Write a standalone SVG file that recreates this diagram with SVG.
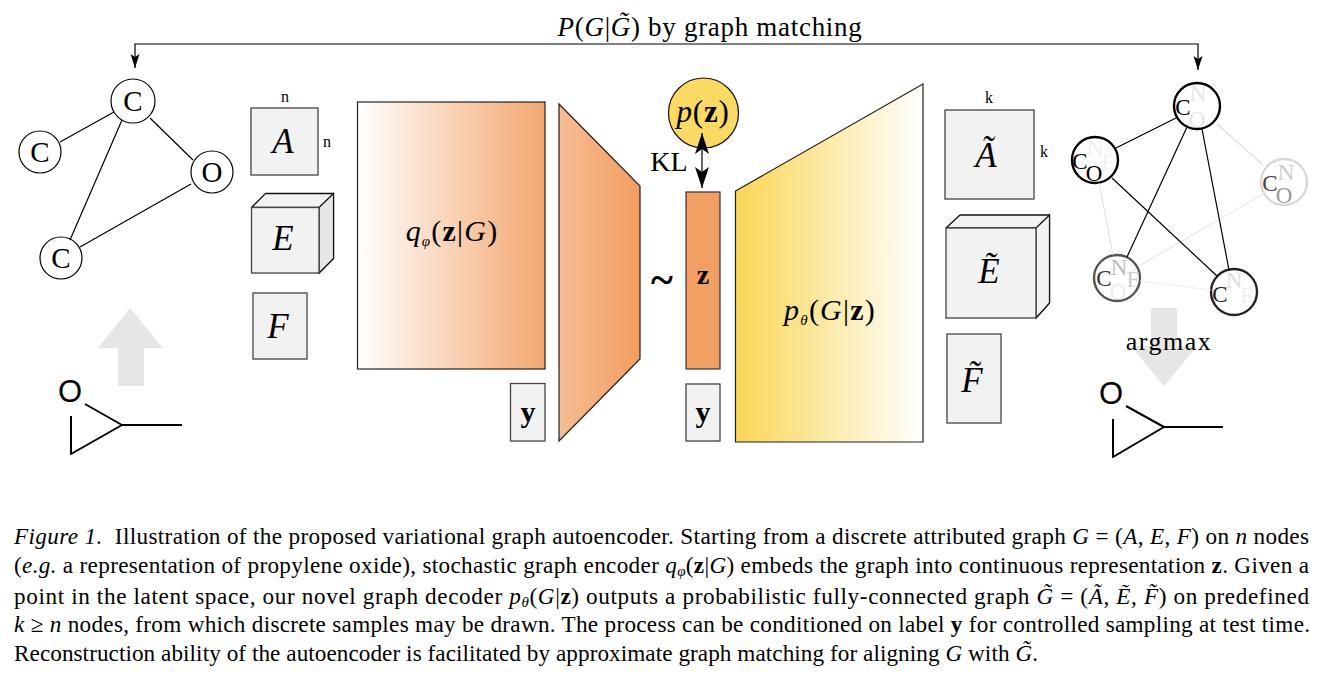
<svg xmlns="http://www.w3.org/2000/svg" width="1340" height="692" viewBox="0 0 1340 692">
<style>
text{font-family:"Liberation Serif","Times New Roman",serif;fill:#000}
.m{font-style:italic}
.b{font-weight:bold;font-style:normal}
.ctr{text-anchor:middle}
.box{fill:#f2f2f2;stroke:#444;stroke-width:1.3}
.side{fill:#f2f2f2;stroke:#111;stroke-width:1.3;stroke-linejoin:round}
.edge{stroke:#000;stroke-width:1.2;fill:none}
.n{fill:#fff;stroke:#000;stroke-width:1.2}
.lbl{font-size:29px;text-anchor:middle}
.s{font-size:23px;text-anchor:middle}
.dim{font-size:16px;text-anchor:middle}
.big{font-size:35px;text-anchor:middle}
.mol{stroke:#000;stroke-width:2;fill:none;stroke-linejoin:round}
.molO{font-family:"Liberation Sans",Arial,sans-serif;font-size:31px;text-anchor:middle}
.cap{font-size:23.200px}
.sub{font-size:15px}
.capsub{font-size:15px}
.gray{fill:#e6e6e6}
.math{font-size:30px;letter-spacing:1.200px;text-anchor:middle}
</style>
<defs>
<linearGradient id="enc" x1="0" x2="1" y1="0" y2="0"><stop offset="0" stop-color="#fff"/><stop offset="1" stop-color="#f3a66f"/></linearGradient>
<linearGradient id="trap" x1="0" x2="1" y1="0" y2="0"><stop offset="0" stop-color="#f6bd94"/><stop offset="1" stop-color="#f29d60"/></linearGradient>
<linearGradient id="dec" x1="0" x2="1" y1="0" y2="0"><stop offset="0" stop-color="#f9d655"/><stop offset="1" stop-color="#fff"/></linearGradient>
<marker id="ah" viewBox="0 0 14 10" refX="14" refY="5" markerWidth="14" markerHeight="10" markerUnits="userSpaceOnUse" orient="auto-start-reverse"><path d="M0 0.500 L14 5 L0 9.500 L3 5 Z" fill="#000"/></marker>
<marker id="ahb" viewBox="0 0 21 14" refX="21" refY="7" markerWidth="21" markerHeight="14" markerUnits="userSpaceOnUse" orient="auto-start-reverse"><path d="M0 0 L21 7 L0 14 L5 7 Z" fill="#000"/></marker>
</defs>

<text id="matching-label" x="710" y="36" font-size="27" letter-spacing="0.700" class="ctr"><tspan class="m">P</tspan>(<tspan class="m">G</tspan>|<tspan class="m">G&#771;</tspan>) by graph matching</text>

<g id="graph-in">
<g id="g1"><circle class="n" cx="133" cy="101" r="22"/><text class="lbl" x="133" y="111">C</text></g>
<g id="g2"><circle class="n" cx="40" cy="152" r="21"/><text class="lbl" x="40" y="162">C</text></g>
<g id="g3"><circle class="n" cx="212" cy="172" r="21"/><text class="lbl" x="212" y="182">O</text></g>
<g id="g4"><circle class="n" cx="61" cy="258" r="21"/><text class="lbl" x="61" y="268">C</text></g>
</g>

<g id="mol-in">
<path class="gray" d="M130 308L163 348H144V386H118V348H98Z"/>
<path class="mol" d="M85 404L122 425L71 454V416M122 425H182"/>
<text class="molO" x="70" y="402">O</text>
</g>

<g id="A"><rect class="box" x="251" y="108" width="67" height="67"/><text class="big m" x="283" y="153">A</text><text class="dim" x="285" y="102">n</text><text class="dim" x="327" y="147">n</text></g>
<g id="E"><path class="side" d="M251.500 207.500L265.500 193.500H333.500V258.500L319 273V207.500Z"/><path d="M319 207.500L333.500 193.500V258.500L319 273Z" fill="#e6e6e6" stroke="#111" stroke-width="1.200"/><rect class="box" x="251.500" y="207.500" width="67.500" height="65.500"/><text class="big m" x="283" y="250">E</text></g>
<g id="F"><rect class="box" x="253" y="293" width="54" height="66"/><text class="big m" x="278" y="338">F</text></g>

<g id="encoder"><rect x="357.500" y="102" width="187.500" height="267" fill="url(#enc)" stroke="#222" stroke-width="1.200"/><text x="452" y="241" class="math"><tspan class="m">q</tspan><tspan class="m sub" dy="5">&#966;</tspan><tspan dy="-5">(</tspan><tspan class="b">z</tspan>|<tspan class="m">G</tspan>)</text></g>
<g id="encoder-neck"><path d="M559 104L640 186V359L559 441Z" fill="url(#trap)" stroke="#222" stroke-width="1.200"/></g>
<g id="y1"><rect class="box" x="510.500" y="383.500" width="34.500" height="57.500"/><text class="b ctr" x="528" y="422" font-size="30">y</text></g>
<text id="sample" x="662" y="294" font-size="42" class="b ctr">~</text>
<g id="z"><rect x="686" y="192" width="34" height="177" fill="#f29f63" stroke="#333" stroke-width="1.200"/><text class="b ctr" x="703" y="284" font-size="28">z</text></g>
<g id="y2"><rect class="box" x="686" y="384" width="34" height="57"/><text class="b ctr" x="703" y="422" font-size="30">y</text></g>
<g id="prior"><circle cx="703.500" cy="113" r="35" fill="#fad964" stroke="#111" stroke-width="1.200"/><text x="703" y="122" font-size="31" class="ctr" letter-spacing="0.800"><tspan class="m">p</tspan>(<tspan class="b">z</tspan>)</text></g>
<text id="kl" x="669" y="171" font-size="28" class="ctr">KL</text>
<g id="decoder"><path d="M735.500 191L923 84V442H735.500Z" fill="url(#dec)" stroke="#222" stroke-width="1.200"/><text x="830" y="320" class="math"><tspan class="m">p</tspan><tspan class="m sub" dy="5">&#952;</tspan><tspan dy="-5">(</tspan><tspan class="m">G</tspan>|<tspan class="b">z</tspan>)</text></g>

<g id="A-tilde"><rect class="box" x="945" y="110" width="89" height="89"/><text class="big m" x="986" y="167">A&#771;</text><text class="dim" x="989" y="103">k</text><text class="dim" x="1044" y="157">k</text></g>
<g id="E-tilde"><path class="side" d="M946 228L960 215H1049.500V303L1036 318V228Z"/><path d="M1036 228L1049.500 215V303L1036 318Z" fill="#f2f2f2" stroke="#111" stroke-width="1.200"/><rect class="box" x="946" y="228" width="90" height="90"/><text class="big m" x="989" y="283">E&#771;</text></g>
<g id="F-tilde"><rect class="box" x="947" y="334" width="54" height="89"/><text class="big m" x="972" y="392">F&#771;</text></g>

<g id="graph-out">
<g id="h1"><circle cx="1197" cy="106" r="23" fill="#fff" stroke="#000" stroke-width="2.400"/><text class="s" x="1198" y="101" style="fill:#e6e6e6">N</text><text class="s" x="1197" y="127" style="fill:#e6e6e6">O</text><text class="s" x="1183" y="115">C</text></g>
<g id="h2"><circle cx="1095" cy="160" r="23" fill="#fff" stroke="#000" stroke-width="2.400"/><text class="s" x="1095" y="156" style="fill:#eee">N</text><text class="s" x="1108" y="170" style="fill:#f2f2f2">F</text><text class="s" x="1080" y="169">C</text><text class="s" x="1094" y="181">O</text></g>
<g id="h3"><circle cx="1284" cy="182" r="23" fill="#fff" stroke="#d8d8d8" stroke-width="2.400"/><text class="s" x="1286" y="180" style="fill:#ccc">N</text><text class="s" x="1284" y="203" style="fill:#999">O</text><text class="s" x="1270" y="191" style="fill:#444">C</text></g>
<g id="h4"><circle cx="1117" cy="278" r="23" fill="#fff" stroke="#555" stroke-width="2.400"/><text class="s" x="1119" y="275" style="fill:#bbb">N</text><text class="s" x="1133" y="287" style="fill:#ccc">F</text><text class="s" x="1118" y="299" style="fill:#eee">O</text><text class="s" x="1104" y="286" style="fill:#333">C</text></g>
<g id="h5"><circle cx="1234" cy="292" r="23" fill="#fff" stroke="#222" stroke-width="2.400"/><text class="s" x="1234" y="288" style="fill:#ddd">N</text><text class="s" x="1247" y="303" style="fill:#eee">F</text><text class="s" x="1220" y="302" style="fill:#222">C</text></g>
</g>

<g id="mol-out">
<path class="gray" d="M1151 308H1177V346H1197L1164 386L1131 346H1151Z"/>
<path class="mol" d="M1126 406L1164 427L1113 457V419M1164 427H1223"/>
<text class="molO" x="1111" y="404">O</text>
<text x="1169" y="350" font-size="26" letter-spacing="1.500" class="ctr">argmax</text>
</g>

<g id="connectors">
<path class="edge" d="M135 68V44H1198V70" marker-start="url(#ah)" marker-end="url(#ah)"/>
<path class="edge" d="M702 133V188" marker-start="url(#ahb)" marker-end="url(#ahb)"/>
<path class="edge" d="M114 112L60 142M122 120L70 240M193 160L150 118M191 184L80 247"/>
<path d="M1217 124L1263 165" stroke="#ddd" stroke-width="1.200"/>
<path d="M1099 183L1113 255" stroke="#e4e4e4" stroke-width="1.200"/>
<path d="M1263 194L1139 266" stroke="#e8e8e8" stroke-width="1.200"/>
<path d="M1140 281L1211 290" stroke="#eee" stroke-width="1.200"/>
<path class="edge" d="M1176 118L1116 148M1187 127L1127 257M1202 129L1229 270M1112 178L1217 276"/>
</g>

<g id="caption">
<text class="cap" x="14" y="544" textLength="1295" lengthAdjust="spacing"><tspan class="m">Figure 1.</tspan>&#160; Illustration of the proposed variational graph autoencoder. Starting from a discrete attributed graph <tspan class="m">G</tspan> = (<tspan class="m">A</tspan>, <tspan class="m">E</tspan>, <tspan class="m">F</tspan>) on <tspan class="m">n</tspan> nodes</text>
<text class="cap" x="14" y="573" textLength="1295" lengthAdjust="spacing">(<tspan class="m">e.g.</tspan> a representation of propylene oxide), stochastic graph encoder <tspan class="m">q</tspan><tspan class="m capsub" dy="3">&#966;</tspan><tspan dy="-3">(</tspan><tspan class="b">z</tspan>|<tspan class="m">G</tspan>) embeds the graph into continuous representation <tspan class="b">z</tspan>. Given a</text>
<text class="cap" x="14" y="604" textLength="1295" lengthAdjust="spacing">point in the latent space, our novel graph decoder <tspan class="m">p</tspan><tspan class="m capsub" dy="3">&#952;</tspan><tspan dy="-3">(</tspan><tspan class="m">G</tspan>|<tspan class="b">z</tspan>) outputs a probabilistic fully-connected graph <tspan class="m">G&#771;</tspan> = (<tspan class="m">A&#771;</tspan>, <tspan class="m">E&#771;</tspan>, <tspan class="m">F&#771;</tspan>) on predefined</text>
<text class="cap" x="14" y="632" textLength="1296" lengthAdjust="spacing"><tspan class="m">k</tspan> &#8805; <tspan class="m">n</tspan> nodes, from which discrete samples may be drawn. The process can be conditioned on label <tspan class="b">y</tspan> for controlled sampling at test time.</text>
<text class="cap" x="14" y="661" textLength="1024" lengthAdjust="spacing">Reconstruction ability of the autoencoder is facilitated by approximate graph matching for aligning <tspan class="m">G</tspan> with <tspan class="m">G&#771;</tspan>.</text>
</g>
</svg>
